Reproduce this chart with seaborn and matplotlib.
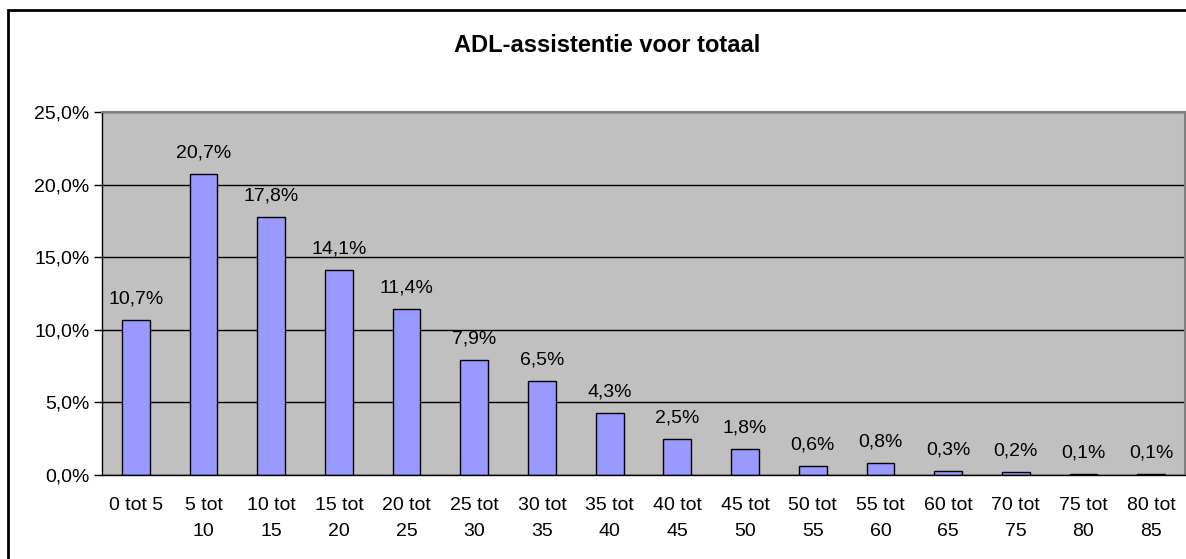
import matplotlib
matplotlib.use('Agg')
import numpy as np
import seaborn as sns
from matplotlib import pyplot as plt
from matplotlib.patches import Rectangle
from matplotlib.ticker import FuncFormatter, FixedLocator

categories = ['0 tot 5', '5 tot\n10', '10 tot\n15', '15 tot\n20', '20 tot\n25', '25 tot\n30',
              '30 tot\n35', '35 tot\n40', '40 tot\n45', '45 tot\n50', '50 tot\n55', '55 tot\n60',
              '60 tot\n65', '70 tot\n75', '75 tot\n80', '80 tot\n85']
values = [10.7, 20.7, 17.8, 14.1, 11.4, 7.9, 6.5, 4.3, 2.5, 1.8, 0.6, 0.8, 0.3, 0.2, 0.1, 0.1]
y_ticks = [0, 5, 10, 15, 20, 25]
title = 'ADL-assistentie voor totaal'


def pct(v, pos=None):
    return f'{v:.1f}%'.replace('.', ',')


sns.set_style('white')
plt.rcParams['font.family'] = ['Liberation Sans', 'DejaVu Sans']
plt.rcParams['text.color'] = 'black'
plt.rcParams['xtick.color'] = 'black'
plt.rcParams['ytick.color'] = 'black'

fig = plt.figure(figsize=(11.86, 5.59), dpi=100)
ax = fig.add_axes([102 / 1186, 1 - 475 / 559, 1083 / 1186, (475 - 112) / 559])
ax.set_facecolor('#C0C0C0')

sns.barplot(x=categories, y=values, color='#9999FF', edgecolor='black', linewidth=1,
            width=0.41, saturation=1, ax=ax)

ax.set_ylim(0, 25)
ax.set_xlim(-0.5, len(categories) - 0.5)
ax.yaxis.set_major_locator(FixedLocator(y_ticks))
ax.yaxis.set_major_formatter(FuncFormatter(pct))
ax.set_axisbelow(True)
ax.grid(axis='y', color='#000000', linewidth=1)
ax.grid(axis='x', visible=False)

ax.set_xticks(np.arange(len(categories)) - 0.5, minor=True)
ax.tick_params(axis='x', which='major', length=0, labelsize=14, pad=16)
ax.tick_params(axis='x', which='minor', length=6, width=1, color='black', direction='out')
ax.tick_params(axis='y', length=6, width=1, color='black', direction='out', labelsize=14,
               left=True, pad=3)
for lab in ax.get_xticklabels():
    lab.set_linespacing(1.65)
ax.set_xlabel('')
ax.set_ylabel('')

for s in ['left', 'bottom']:
    ax.spines[s].set_color('black')
    ax.spines[s].set_linewidth(1)
for s in ['top', 'right']:
    ax.spines[s].set_color('#808080')
    ax.spines[s].set_linewidth(1.5)

for i, v in enumerate(values):
    ax.annotate(pct(v), (i, v), xytext=(0, 9), textcoords='offset points',
                ha='center', va='bottom', fontsize=14)

fig.text(607 / 1186, 1 - 45 / 559, title, ha='center', va='center',
         fontsize=17, fontweight='bold')

fig.patches.append(Rectangle((8 / 1186, -0.1), 1.2, 1 - 10 / 559 + 0.1,
                             transform=fig.transFigure, fill=False,
                             edgecolor='black', linewidth=2))

fig.savefig('out.png', dpi=100)
